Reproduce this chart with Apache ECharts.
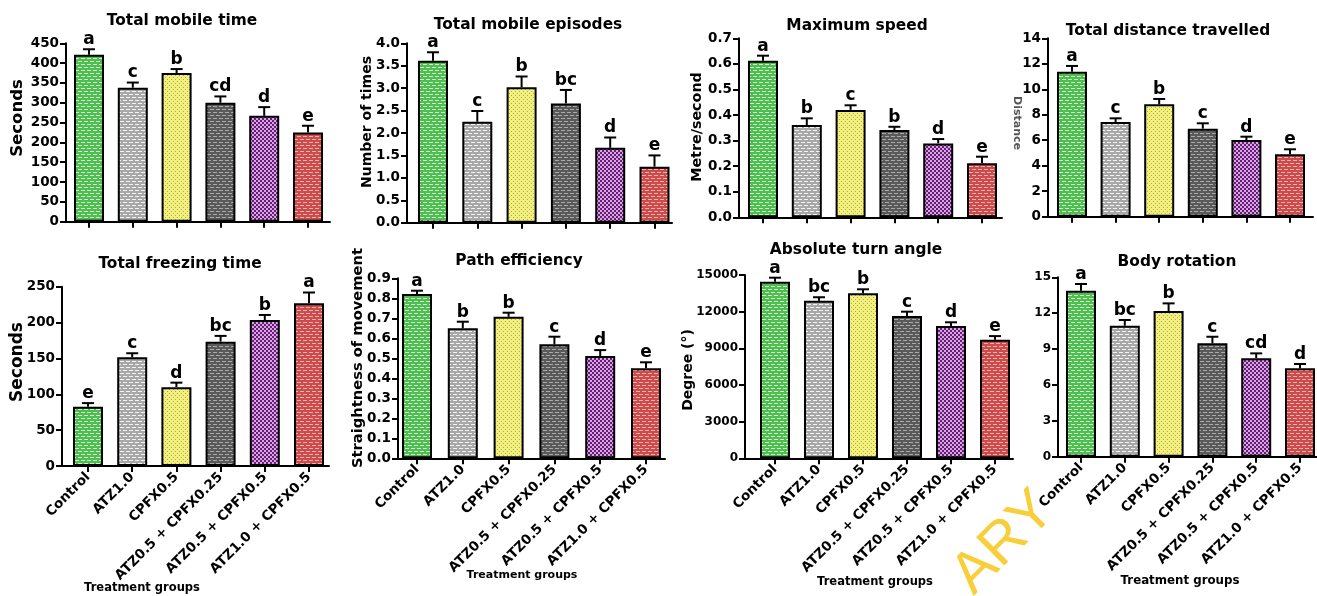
<!DOCTYPE html>
<html>
<head>
<meta charset="utf-8">
<script src="https://cdn.jsdelivr.net/npm/echarts@6/dist/echarts.min.js"></script>
<style>
  body { margin: 0; background: #fff; }
  #chart { width: 1317px; height: 596px; }
</style>
</head>
<body>
<div id="chart"></div>
<script>
// treatment groups (x categories)
const groups = ["Control", "ATZ1.0", "CPFX0.5", "ATZ0.5 + CPFX0.25", "ATZ0.5 + CPFX0.5", "ATZ1.0 + CPFX0.5"];

// mean, SEM and significance letters
const mobileTime = [421, 338, 375, 300, 267, 225];
const mobileTimeSem = [14, 13, 10, 16, 22, 17];
const mobileTimeSig = ["a", "c", "b", "cd", "d", "e"];

const episodes = [3.61, 2.25, 3.02, 2.66, 1.67, 1.25];
const episodesSem = [0.19, 0.24, 0.24, 0.3, 0.23, 0.25];
const episodesSig = ["a", "c", "b", "bc", "d", "e"];

const maxSpeed = [0.612, 0.361, 0.42, 0.341, 0.289, 0.211];
const maxSpeedSem = [0.02, 0.026, 0.018, 0.013, 0.017, 0.026];
const maxSpeedSig = ["a", "b", "c", "b", "d", "e"];

const distance = [11.38, 7.43, 8.82, 6.91, 6.02, 4.9];
const distanceSem = [0.45, 0.29, 0.42, 0.42, 0.26, 0.39];
const distanceSig = ["a", "c", "b", "c", "d", "e"];

const freezing = [82.7, 151.6, 109.8, 173.4, 203.6, 226.9];
const freezingSem = [5, 5.6, 6.4, 8, 7, 15];
const freezingSig = ["e", "c", "d", "bc", "b", "a"];

const pathEff = [0.821, 0.65, 0.708, 0.57, 0.511, 0.45];
const pathEffSem = [0.017, 0.033, 0.02, 0.038, 0.03, 0.03];
const pathEffSig = ["a", "b", "b", "c", "d", "e"];

const turnAngle = [14450, 12900, 13500, 11650, 10830, 9700];
const turnAngleSem = [330, 280, 330, 350, 300, 300];
const turnAngleSig = ["a", "bc", "b", "c", "d", "e"];

const bodyRot = [13.88, 10.95, 12.18, 9.48, 8.23, 7.39];
const bodyRotSem = [0.56, 0.48, 0.64, 0.55, 0.41, 0.36];
const bodyRotSig = ["a", "bc", "b", "c", "cd", "d"];

// y axis ranges
const yMax = [450, 4, 0.7, 14, 250, 0.9, 15000, 15];
const yStep = [50, 0.5, 0.1, 2, 50, 0.1, 3000, 3];
const yDecimals = [0, 1, 1, 0, 0, 1, 0, 0];

const titles = ["Total mobile time", "Total mobile episodes", "Maximum speed", "Total distance travelled",
  "Total freezing time", "Path efficiency", "Absolute turn angle", "Body rotation"];
const yNames = ["Seconds", "Number of times", "Metre/second", "Distance",
  "Seconds", "Straightness of movement", "Degree (°)", ""];

const means = [mobileTime, episodes, maxSpeed, distance, freezing, pathEff, turnAngle, bodyRot];
const sems = [mobileTimeSem, episodesSem, maxSpeedSem, distanceSem, freezingSem, pathEffSem, turnAngleSem, bodyRotSem];
const sigs = [mobileTimeSig, episodesSig, maxSpeedSig, distanceSig, freezingSig, pathEffSig, turnAngleSig, bodyRotSig];

// panel placement (pixels)
const layout = [
  { axisX: 66, top: 43.3, bottom: 221.7, first: 89, step: 43.8, end: 330, fs: 13.5 },
  { axisX: 407, top: 43.3, bottom: 222.7, first: 433, step: 44.3, end: 672, fs: 13.5 },
  { axisX: 739, top: 38.3, bottom: 217.3, first: 763, step: 43.8, end: 1002, fs: 13.5 },
  { axisX: 1048, top: 38.3, bottom: 216.7, first: 1072, step: 43.6, end: 1313, fs: 13.5 },
  { axisX: 62, top: 286.7, bottom: 466, first: 88, step: 44.2, end: 329, fs: 13.5 },
  { axisX: 398, top: 278.3, bottom: 458.3, first: 417, step: 45.8, end: 665, fs: 13.5 },
  { axisX: 745, top: 275, bottom: 458.3, first: 775, step: 44, end: 1013, fs: 12 },
  { axisX: 1058, top: 277.3, bottom: 456.7, first: 1081, step: 43.8, end: 1317, fs: 12 },
];
const titlePos = [[182, 21], [528, 25], [857, 26], [1168, 31], [180, 264], [519, 261], [856, 250], [1177, 262]];
const yNamePos = [[18, 118, 16.5], [367, 122, 14], [697, 127, 14.3], [1017, 123, 11], [18, 362, 17], [358, 358, 14.7], [688, 370, 14], [0, 0, 0]];
const groupLabelPos = [[142, 588, 11.5], [522, 575, 11], [875, 582, 11.5], [1180, 581, 11.8]];

const FONT = '"DejaVu Sans", sans-serif';

// bar fill patterns
function tile(w, h, bg, fg, rects) {
  const c = document.createElement("canvas");
  c.width = w; c.height = h;
  const g = c.getContext("2d");
  g.fillStyle = bg; g.fillRect(0, 0, w, h);
  g.fillStyle = fg;
  rects.forEach(r => g.fillRect(r[0], r[1], r[2], r[3]));
  return { image: c, repeat: "repeat" };
}
const brick = [[0, 1, 4, 1], [3, 4, 3, 1], [0, 4, 1, 1]];
const fills = [
  tile(6, 6, "#50bd50", "#cdf3cd", brick),
  tile(6, 6, "#a8a8a8", "#f4f4f4", brick),
  tile(4, 4, "#f3f07c", "#a8a65a", [[1, 1, 1, 1], [3, 3, 1, 1]]),
  tile(6, 6, "#5a5a5a", "#aaaaaa", brick),
  tile(4, 4, "#e49af0", "#5a2866", [[0, 0, 2, 2], [2, 2, 2, 2]]),
  tile(6, 6, "#cc4c4c", "#f3b0b0", brick),
];

const grid = [], xAxis = [], yAxis = [], series = [], graphic = [];
layout.forEach((p, i) => {
  const row2 = i >= 4;
  const last = p.first + 5 * p.step;
  grid.push({
    left: p.axisX, top: p.top, width: p.end - p.axisX, height: p.bottom - p.top,
    containLabel: false, outerBoundsMode: "none"
  });
  xAxis.push({
    type: "value", gridIndex: i,
    min: -(p.first - p.axisX) / p.step,
    max: 5 + (p.end - last) / p.step,
    splitLine: { show: false },
    axisLine: { onZero: false, lineStyle: { color: "#000", width: 2 } },
    axisTick: { customValues: [0, 1, 2, 3, 4, 5], length: 6, lineStyle: { color: "#000", width: 2 } },
    axisLabel: {
      show: row2, customValues: [0, 1, 2, 3, 4, 5], rotate: 45, margin: 9,
      formatter: v => groups[Math.round(v)],
      color: "#000", fontWeight: "bold", fontFamily: FONT, fontSize: 13.5
    }
  });
  yAxis.push({
    type: "value", gridIndex: i, min: 0, max: yMax[i], interval: yStep[i],
    splitLine: { show: false },
    axisLine: { show: true, onZero: false, lineStyle: { color: "#000", width: 2 } },
    axisTick: { show: true, length: 6, lineStyle: { color: "#000", width: 2 } },
    axisLabel: {
      margin: 7, color: "#000", fontWeight: "bold", fontFamily: FONT, fontSize: p.fs,
      formatter: v => v.toFixed(yDecimals[i])
    }
  });
  series.push({
    type: "bar", xAxisIndex: i, yAxisIndex: i, barWidth: 30,
    data: means[i].map((v, j) => ({ value: [j, v], itemStyle: { color: fills[j] } })),
    itemStyle: { borderColor: "#000", borderWidth: 2 },
    emphasis: { disabled: true }, animation: false
  });
  series.push({
    type: "custom", xAxisIndex: i, yAxisIndex: i, z: 5, animation: false,
    data: means[i].map((v, j) => [j, v, sems[i][j]]),
    renderItem: (params, api) => {
      const x = api.value(0), m = api.value(1), s = api.value(2);
      const top = api.coord([x, m + s]);
      const base = api.coord([x, m]);
      return {
        type: "group",
        children: [
          { type: "line", shape: { x1: top[0], y1: base[1], x2: top[0], y2: top[1] }, style: { stroke: "#000", lineWidth: 2 } },
          { type: "line", shape: { x1: top[0] - 6, y1: top[1], x2: top[0] + 6, y2: top[1] }, style: { stroke: "#000", lineWidth: 2 } },
          {
            type: "text", x: top[0], y: top[1] - 1,
            style: {
              text: sigs[i][params.dataIndex], fill: "#000", font: "bold 17px " + FONT,
              align: "center", verticalAlign: "bottom", textAlign: "center", textVerticalAlign: "bottom"
            }
          }
        ]
      };
    }
  });
  graphic.push({
    type: "text", x: titlePos[i][0], y: titlePos[i][1],
    style: {
      text: titles[i], fill: "#000", font: "bold 15.4px " + FONT,
      align: "center", verticalAlign: "middle", textAlign: "center", textVerticalAlign: "middle"
    }
  });
  if (yNames[i]) {
    graphic.push({
      type: "text", x: yNamePos[i][0], y: yNamePos[i][1], rotation: i === 3 ? -Math.PI / 2 : Math.PI / 2,
      style: {
        text: yNames[i], fill: i === 3 ? "#555" : "#000", font: "bold " + yNamePos[i][2] + "px " + FONT,
        align: "center", verticalAlign: "middle", textAlign: "center", textVerticalAlign: "middle"
      }
    });
  }
});
groupLabelPos.forEach(pos => {
  graphic.push({
    type: "text", x: pos[0], y: pos[1],
    style: {
      text: "Treatment groups", fill: "#000", font: "bold " + pos[2] + "px " + FONT,
      align: "center", verticalAlign: "middle", textAlign: "center", textVerticalAlign: "middle"
    }
  });
});
// watermark
graphic.push({
  type: "text", x: 1004, y: 543, rotation: Math.PI / 4, z: -10,
  style: {
    text: "ARY", fill: "#f8cf3a", font: '58px "Liberation Sans", sans-serif',
    align: "center", verticalAlign: "middle", textAlign: "center", textVerticalAlign: "middle"
  }
});

const myChart = echarts.init(document.getElementById("chart"), null, { renderer: "canvas" });
myChart.setOption({
  backgroundColor: "#fff",
  animation: false,
  grid: grid,
  xAxis: xAxis,
  yAxis: yAxis,
  series: series,
  graphic: graphic
});
</script>
</body>
</html>
